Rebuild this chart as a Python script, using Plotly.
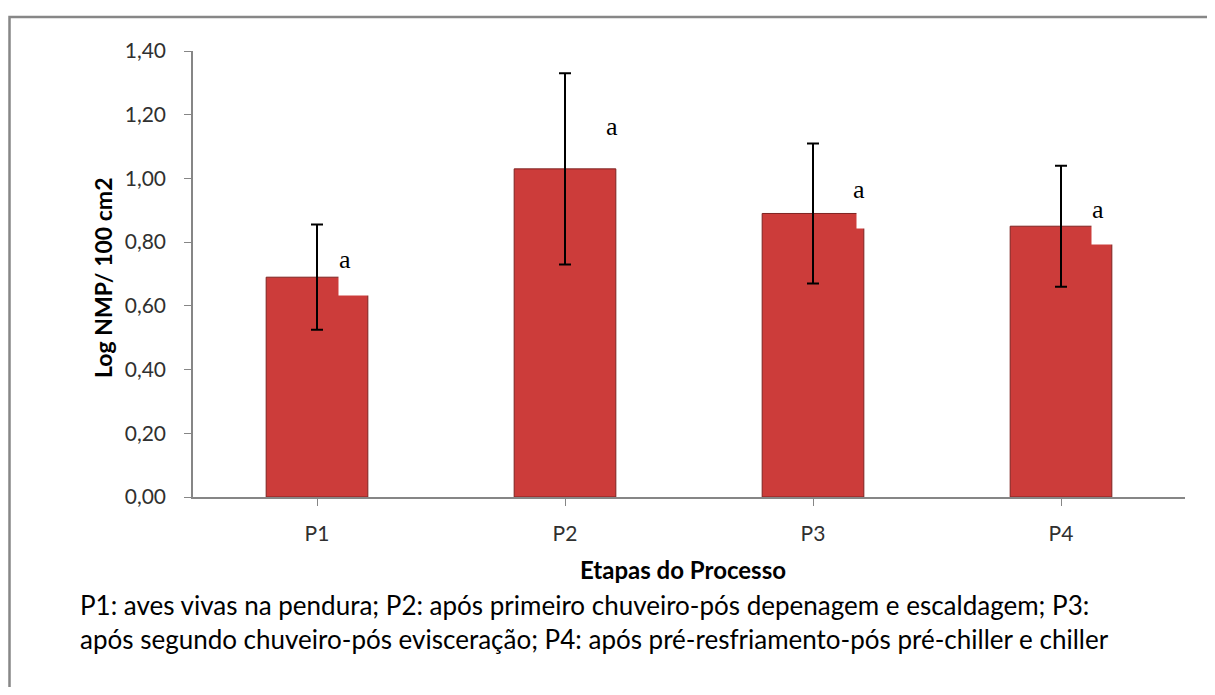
import plotly.graph_objects as go

categories = ["P1", "P2", "P3", "P4"]
values = [0.69, 1.03, 0.89, 0.85]
errors = [0.165, 0.30, 0.22, 0.19]
letters = ["a", "a", "a", "a"]
y_ticks = [0.0, 0.2, 0.4, 0.6, 0.8, 1.0, 1.2, 1.4]

# label placement (offsets from category centre, in category units / data units)
label_dx = [0.113, 0.19, 0.186, 0.15]
label_y = [0.745, 1.163, 0.964, 0.904]
cut_dx = [0.085, None, 0.174, 0.121]
cut_y = [0.63, None, 0.84, 0.79]

caption = ("P1: aves vivas na pendura; P2: após primeiro chuveiro-pós depenagem e escaldagem; P3:<br>"
           "após segundo chuveiro-pós evisceração; P4: após pré-resfriamento-pós pré-chiller e chiller")

# page body has an 8px margin, so the figure is drawn 8px in from the window edge
OFF = 8
W, H = 1215 - 2 * OFF, 695 - 2 * OFF
L, T = 185, 43
PW, PH = 992, 446
R, B = W - L - PW, H - T - PH


def px(xw):
    return (xw - OFF - L) / PW


def py(yw):
    return (H - B - (yw - OFF)) / PH


xs = list(range(len(categories)))

fig = go.Figure()
fig.add_trace(go.Bar(
    x=xs, y=values, width=0.41,
    marker=dict(color="#CC3C3A", line=dict(color="#7E2321", width=1)),
    error_y=dict(type="data", array=errors, visible=True, color="#000000", thickness=2, width=6),
    showlegend=False,
))

annotations = []
for i in xs:
    if cut_dx[i] is not None:
        annotations.append(dict(
            x=i + cut_dx[i], y=cut_y[i], xref="x", yref="y",
            xanchor="left", yanchor="bottom", text=" ", showarrow=False,
            width=50, height=45, bgcolor="#FFFFFF", borderpad=0,
        ))
for i in xs:
    annotations.append(dict(
        x=i + label_dx[i], y=label_y[i], xref="x", yref="y",
        xanchor="center", yanchor="middle", text=letters[i], showarrow=False,
        font=dict(family="Liberation Serif", size=26, color="#000000"),
    ))

annotations.append(dict(
    x=px(683), y=py(569), xref="paper", yref="paper",
    xanchor="center", yanchor="middle", text="<b>Etapas do Processo</b>", showarrow=False,
    font=dict(family="Lato", size=24, color="#000000"),
))
annotations.append(dict(
    x=px(103), y=py(278), xref="paper", yref="paper", textangle=-90,
    xanchor="center", yanchor="middle", text="<b>Log NMP/ 100 cm2</b>", showarrow=False,
    font=dict(family="Lato", size=23, color="#000000"),
))
annotations.append(dict(
    x=px(78), y=py(622), xref="paper", yref="paper",
    xanchor="left", yanchor="middle", align="left", text=caption, showarrow=False,
    font=dict(family="Lato", size=26, color="#000000"),
))

x0, yt = px(9.5), py(17)
frame_path = f"M {x0},{py(720)} L {x0},{yt} L {px(1240)},{yt}"

fig.update_layout(
    width=W, height=H,
    margin=dict(l=L, r=R, t=T, b=B),
    paper_bgcolor="#FFFFFF", plot_bgcolor="#FFFFFF",
    separators=",.",
    annotations=annotations,
    shapes=[dict(
        type="path", xref="paper", yref="paper", path=frame_path,
        line=dict(color="#878787", width=2.5), layer="below",
    )],
    xaxis=dict(
        tickmode="array", tickvals=xs, ticktext=categories,
        range=[-0.5, len(categories) - 0.5],
        showline=True, linecolor="#868686", linewidth=1.5,
        ticks="outside", tickson="boundaries", ticklen=7, tickcolor="#868686",
        showgrid=False, zeroline=False, ticklabelstandoff=10,
        tickfont=dict(family="Lato", size=21, color="#303030"),
    ),
    yaxis=dict(
        range=[0, 1.4], tickvals=y_ticks, tickformat=".2f",
        showline=True, linecolor="#868686", linewidth=1.5,
        ticks="outside", ticklen=7, tickcolor="#868686",
        showgrid=False, zeroline=False, ticklabelstandoff=14,
        tickfont=dict(family="Lato", size=21, color="#303030"),
    ),
)

fig.write_html("out.html")
